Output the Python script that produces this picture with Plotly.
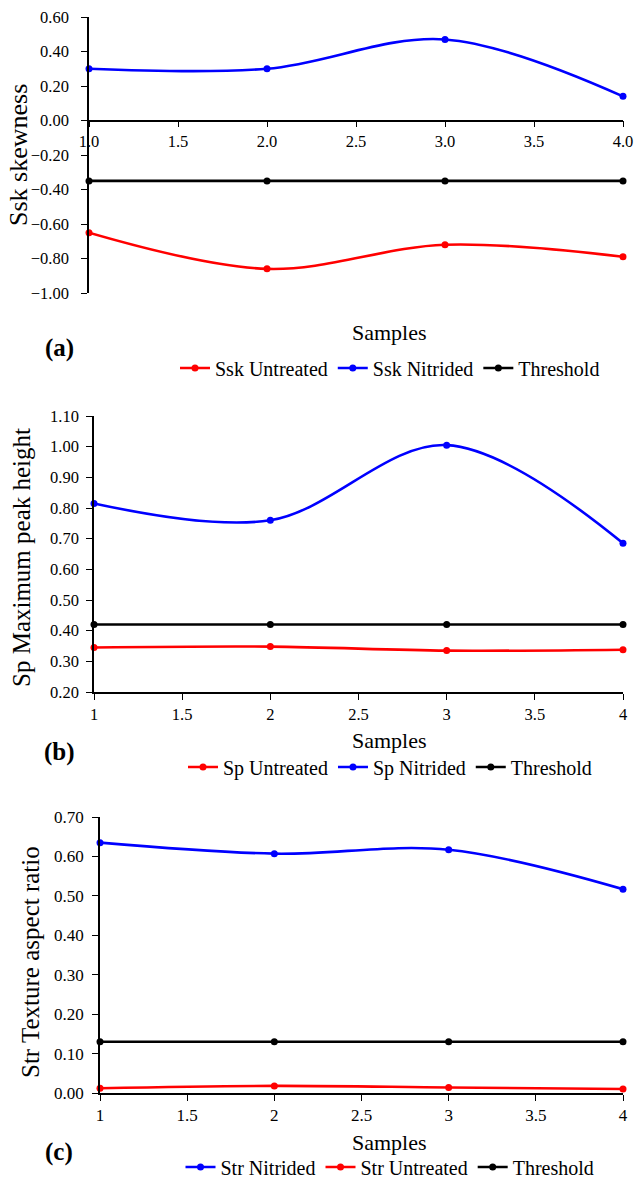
import plotly.graph_objects as go

W, H = 634, 1178

samples = [1, 2, 3, 4]

ssk_untreated = [-0.65, -0.86, -0.72, -0.79]
ssk_nitrided = [0.30, 0.30, 0.47, 0.14]
ssk_threshold = [-0.35, -0.35, -0.35, -0.35]

sp_untreated = [0.345, 0.348, 0.335, 0.338]
sp_nitrided = [0.815, 0.760, 1.005, 0.685]
sp_threshold = [0.42, 0.42, 0.42, 0.42]

str_nitrided = [0.635, 0.607, 0.617, 0.517]
str_untreated = [0.012, 0.018, 0.014, 0.010]
str_threshold = [0.13, 0.13, 0.13, 0.13]

x_ticks_a = [1.0, 1.5, 2.0, 2.5, 3.0, 3.5, 4.0]
x_ticks_bc = [1, 1.5, 2, 2.5, 3, 3.5, 4]

RED, BLUE, BLACK = "#FF0000", "#0000FF", "#000000"
FONT = "Liberation Serif, Times New Roman, serif"

def px_x(p):
    return p / W

def px_y(p):
    return 1 - p / H

# panel geometry (pixels)
panels = {
    "a": dict(x0=89, x1=623, top=17, bot=293, yr=[-1.0, 0.6], dt=0.2, fs=16.5, stand=9),
    "b": dict(x0=94, x1=623, top=416, bot=692, yr=[0.2, 1.1], dt=0.1, fs=16.5, stand=4),
    "c": dict(x0=100, x1=623, top=817, bot=1093, yr=[0.0, 0.7], dt=0.1, fs=17, stand=5),
}

fig = go.Figure()

def add(name, y, color, xa, ya, legend):
    fig.add_trace(go.Scatter(
        x=samples, y=y, name=name, mode="lines+markers",
        line=dict(color=color, width=2.6, shape="spline", smoothing=1.0),
        marker=dict(color=color, size=7),
        xaxis=xa, yaxis=ya, legend=legend, cliponaxis=False,
    ))

add("Ssk Untreated", ssk_untreated, RED, "x", "y", "legend")
add("Ssk Nitrided", ssk_nitrided, BLUE, "x", "y", "legend")
add("Threshold", ssk_threshold, BLACK, "x", "y", "legend")

add("Sp Untreated", sp_untreated, RED, "x2", "y2", "legend2")
add("Sp Nitrided", sp_nitrided, BLUE, "x2", "y2", "legend2")
add("Threshold", sp_threshold, BLACK, "x2", "y2", "legend2")

add("Str Nitrided", str_nitrided, BLUE, "x3", "y3", "legend3")
add("Str Untreated", str_untreated, RED, "x3", "y3", "legend3")
add("Threshold", str_threshold, BLACK, "x3", "y3", "legend3")

axcommon = dict(showline=True, linecolor="black", linewidth=1.5, ticks="outside",
                ticklen=6, tickwidth=1.2, tickcolor="black", showgrid=False,
                zeroline=False, fixedrange=True, automargin=False)

layout = {}
for i, key in enumerate(["a", "b", "c"]):
    p = panels[key]
    tickfont = dict(family=FONT, size=p["fs"], color="black")
    sfx = "" if i == 0 else str(i + 1)
    ydom = [px_y(p["bot"]), px_y(p["top"])]
    xdom = [px_x(p["x0"]), px_x(p["x1"])]
    ya = dict(axcommon, domain=ydom, range=p["yr"], dtick=p["dt"], tick0=0,
              tickformat=".2f", anchor="x" + sfx, tickfont=tickfont,
              ticklabelstandoff=p["stand"])
    if key == "a":
        zero_pos = ydom[0] + (0 - p["yr"][0]) / (p["yr"][1] - p["yr"][0]) * (ydom[1] - ydom[0])
        xa = dict(axcommon, domain=xdom, range=[1, 4], tickvals=x_ticks_a,
                  ticktext=[f"{v:.1f}" for v in x_ticks_a], anchor="free", position=zero_pos,
                  tickfont=tickfont)
    else:
        xa = dict(axcommon, domain=xdom, range=[1, 4], tickvals=x_ticks_bc,
                  ticktext=[str(v) for v in x_ticks_bc], anchor="y" + sfx, tickfont=tickfont)
    layout["xaxis" + sfx] = xa
    layout["yaxis" + sfx] = ya

legfont = dict(family=FONT, size=20, color="black")
for i, yy in enumerate([368, 767, 1167]):
    sfx = "" if i == 0 else str(i + 1)
    layout["legend" + sfx] = dict(orientation="h", x=px_x(390), y=px_y(yy),
                                  xanchor="center", yanchor="middle",
                                  font=legfont, itemwidth=30, bgcolor="rgba(0,0,0,0)",
                                  tracegroupgap=0, itemclick=False, itemdoubleclick=False)

annotations = []
ytitles = [("Ssk skewness", 19, 155, 26), ("Sp Maximum peak height", 22, 558, 25),
           ("Str Texture aspect ratio", 30, 962, 25)]
for txt, xx, yy, sz in ytitles:
    annotations.append(dict(text=txt, x=px_x(xx), y=px_y(yy), xref="paper", yref="paper",
                            showarrow=False, textangle=-90, xanchor="center", yanchor="middle",
                            font=dict(family=FONT, size=sz, color="black")))
for yy in [333, 740, 1142]:
    annotations.append(dict(text="Samples", x=px_x(389), y=px_y(yy), xref="paper", yref="paper",
                            showarrow=False, xanchor="center", yanchor="middle",
                            font=dict(family=FONT, size=22, color="black")))
for txt, yy in [("(a)", 348), ("(b)", 752), ("(c)", 1152)]:
    annotations.append(dict(text=f"<b>{txt}</b>", x=px_x(59), y=px_y(yy), xref="paper", yref="paper",
                            showarrow=False, xanchor="center", yanchor="middle",
                            font=dict(family=FONT, size=25, color="black")))

fig.update_layout(template="none", width=W, height=H, margin=dict(l=0, r=0, t=0, b=0, autoexpand=False),
                  paper_bgcolor="white", plot_bgcolor="white",
                  annotations=annotations, **layout)

fig.write_html("out.html", config={"displayModeBar": False},
               post_script="document.body.style.margin='0';document.body.style.overflow='hidden';")
